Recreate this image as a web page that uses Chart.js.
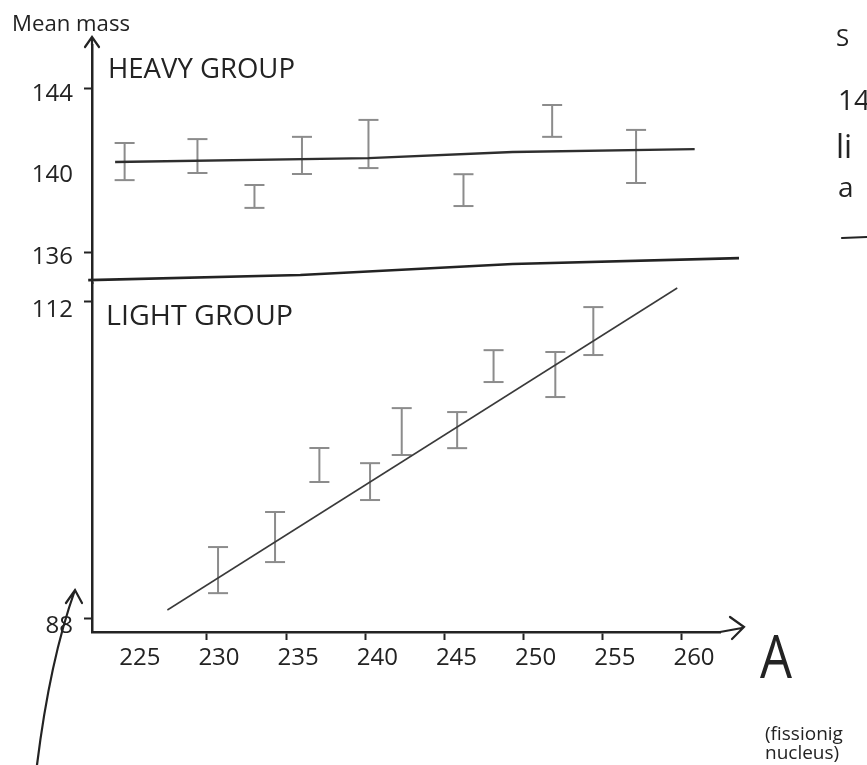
<!DOCTYPE html>
<html>
<head>
<meta charset="utf-8">
<script src="https://cdn.jsdelivr.net/npm/chart.js@4"></script>
<style>
  body { margin: 0; background: #fff; }
  #chart { display: block; }
</style>
</head>
<body>
<canvas id="chart" width="867" height="765"></canvas>
<script>
// mass number of the fissioning nucleus
const xTicks = [225, 230, 235, 240, 245, 250, 255, 260];
const heavyTicks = [136, 140, 144];
const lightTicks = [88, 112];

// heavy group: mean mass +- error
const heavyA = [224.8, 229.4, 233.0, 236.0, 240.2, 246.2, 251.8, 257.1];
const heavyMass = [140.44, 140.71, 138.73, 140.74, 141.30, 139.04, 142.43, 140.69];
const heavyErr = [0.91, 0.83, 0.56, 0.91, 1.18, 0.78, 0.78, 1.30];

// light group: mean mass +- error
const lightA = [230.7, 234.3, 237.1, 240.3, 242.3, 245.8, 248.1, 252.0, 254.4];
const lightMass = [91.64, 94.15, 99.62, 98.36, 102.16, 102.27, 107.13, 106.49, 109.79];
const lightErr = [1.75, 1.90, 1.29, 1.40, 1.78, 1.37, 1.21, 1.71, 1.82];

// hand drawn lines
const heavyFitA = [224.2, 240.2, 249.3, 260.8];
const heavyFitMass = [140.42, 140.61, 140.91, 141.05];
const lightFitA = [227.5, 259.7];
const lightFitMass = [88.61, 113.06];
const breakA = [222.5, 235.9, 249.3, 263.6];
const breakMass = [134.63, 134.88, 135.42, 135.71];

const INK = '#232323';
const BAR = '#8c8c8c';
const FONT = "'Open Sans', sans-serif";

const toPoints = (xs, ys) => xs.map((x, i) => ({ x, y: ys[i] }));

const caps = (xs, ys, errs) => xs.flatMap((x, i) => [
  { x, y: ys[i] - errs[i] },
  { x, y: ys[i] + errs[i] }
]);

const stems = (xs, ys, errs) => xs.flatMap((x, i) => [
  { x, y: ys[i] - errs[i] },
  { x, y: ys[i] + errs[i] },
  { x, y: null }
]);

const fitText = (ctx, text, left, base, width, size) => {
  ctx.save();
  ctx.font = `${size}px ${FONT}`;
  const w = ctx.measureText(text).width;
  ctx.translate(left, base);
  ctx.scale(width / w, 1);
  ctx.fillText(text, 0, 0);
  ctx.restore();
};

const drawText = (ctx, text, left, base, size) => {
  ctx.font = `${size}px ${FONT}`;
  ctx.fillText(text, left, base);
};

const decorations = {
  id: 'decorations',
  afterDraw(chart) {
    const { ctx, chartArea } = chart;
    ctx.save();
    ctx.strokeStyle = INK;
    ctx.fillStyle = INK;
    ctx.lineWidth = 2.2;
    ctx.lineCap = 'round';

    // arrow on top of the y axis
    const left = chartArea.left;
    ctx.beginPath();
    ctx.moveTo(left, chartArea.top);
    ctx.lineTo(left, chartArea.top - 8);
    ctx.moveTo(left - 7, chartArea.top + 2);
    ctx.lineTo(left, chartArea.top - 8);
    ctx.lineTo(left + 7, chartArea.top + 2);
    ctx.stroke();

    // arrow at the end of the x axis
    const bottom = chartArea.bottom;
    ctx.beginPath();
    ctx.moveTo(chartArea.right, bottom);
    ctx.lineTo(chartArea.right + 22, bottom - 4);
    ctx.moveTo(chartArea.right + 10, bottom - 15);
    ctx.lineTo(chartArea.right + 24, bottom - 5);
    ctx.lineTo(chartArea.right + 12, bottom + 7);
    ctx.stroke();

    // stray arrow bottom left
    ctx.beginPath();
    ctx.moveTo(37, 765);
    ctx.quadraticCurveTo(50, 660, 75, 590);
    ctx.moveTo(66, 603);
    ctx.lineTo(75, 590);
    ctx.lineTo(82, 603);
    ctx.stroke();

    fitText(ctx, 'Mean mass', 12, 31, 118, 22);
    fitText(ctx, 'HEAVY GROUP', 108, 78, 187, 27);
    fitText(ctx, 'LIGHT GROUP', 106, 325, 187, 27);
    fitText(ctx, 'A', 760, 678, 32, 60);
    drawText(ctx, '(fissionig', 765, 740, 19);
    drawText(ctx, 'nucleus)', 765, 759, 19);

    // text cut by the right edge of the page
    drawText(ctx, 'S', 836, 46, 24);
    drawText(ctx, '14', 838, 110, 28);
    drawText(ctx, 'li', 836, 158, 32);
    drawText(ctx, 'a', 838, 197, 28);
    ctx.beginPath();
    ctx.moveTo(842, 238);
    ctx.lineTo(867, 237);
    ctx.stroke();
    ctx.restore();
  }
};

const tickFont = { family: FONT, size: 24 };

new Chart(document.querySelector('#chart'), {
  type: 'scatter',
  data: {
    datasets: [
      {
        label: 'break',
        data: toPoints(breakA, breakMass),
        yAxisID: 'yH',
        showLine: true,
        borderColor: INK,
        borderWidth: 2.6,
        pointRadius: 0,
        clip: false
      },
      {
        label: 'heavy fit',
        data: toPoints(heavyFitA, heavyFitMass),
        yAxisID: 'yH',
        showLine: true,
        borderColor: '#2e2e2e',
        borderWidth: 2.4,
        pointRadius: 0
      },
      {
        label: 'light fit',
        data: toPoints(lightFitA, lightFitMass),
        yAxisID: 'yL',
        showLine: true,
        borderColor: '#3a3a3a',
        borderWidth: 1.5,
        pointRadius: 0
      },
      {
        label: 'heavy bars',
        data: stems(heavyA, heavyMass, heavyErr),
        yAxisID: 'yH',
        showLine: true,
        spanGaps: false,
        borderColor: BAR,
        borderWidth: 2,
        pointRadius: 0
      },
      {
        label: 'heavy caps',
        data: caps(heavyA, heavyMass, heavyErr),
        yAxisID: 'yH',
        pointStyle: 'line',
        pointRadius: 10,
        borderColor: BAR,
        borderWidth: 2
      },
      {
        label: 'light bars',
        data: stems(lightA, lightMass, lightErr),
        yAxisID: 'yL',
        showLine: true,
        spanGaps: false,
        borderColor: BAR,
        borderWidth: 2,
        pointRadius: 0
      },
      {
        label: 'light caps',
        data: caps(lightA, lightMass, lightErr),
        yAxisID: 'yL',
        pointStyle: 'line',
        pointRadius: 10,
        borderColor: BAR,
        borderWidth: 2
      }
    ]
  },
  options: {
    responsive: false,
    animation: false,
    layout: { padding: { top: 45, right: 147, bottom: 93, left: 0 } },
    plugins: { legend: { display: false }, tooltip: { enabled: false } },
    scales: {
      x: {
        type: 'linear',
        min: 222.74,
        max: 262.4,
        border: { color: INK, width: 2.5 },
        grid: {
          drawOnChartArea: false,
          tickLength: 8,
          tickWidth: 2,
          tickColor: ctx => ctx.tick && ctx.tick.value === 225 ? 'rgba(0,0,0,0)' : INK
        },
        ticks: { font: tickFont, color: INK, padding: 4, labelOffset: 12, maxRotation: 0, autoSkip: false },
        afterBuildTicks: scale => { scale.ticks = xTicks.map(value => ({ value })); },
        afterFit: scale => { scale.height = 40; }
      },
      yL: {
        type: 'linear',
        position: 'left',
        stack: 'mass',
        stackWeight: 349,
        min: 86.94,
        max: 113.44,
        border: { color: INK, width: 2.5 },
        grid: { drawOnChartArea: false, tickLength: 8, tickWidth: 2, tickColor: INK },
        ticks: { font: tickFont, color: INK, padding: 11, labelOffset: 8 },
        afterBuildTicks: scale => { scale.ticks = lightTicks.map(value => ({ value })); },
        afterFit: scale => { scale.width = 92; }
      },
      yH: {
        type: 'linear',
        position: 'left',
        stack: 'mass',
        stackWeight: 238,
        min: 134.49,
        max: 146.15,
        border: { color: INK, width: 2.5 },
        grid: {
          drawOnChartArea: false,
          tickLength: 8,
          tickWidth: 2,
          tickColor: ctx => ctx.tick && ctx.tick.value === 140 ? 'rgba(0,0,0,0)' : INK
        },
        ticks: { font: tickFont, color: INK, padding: 11, labelOffset: 5 },
        afterBuildTicks: scale => { scale.ticks = heavyTicks.map(value => ({ value })); },
        afterFit: scale => { scale.width = 92; }
      }
    }
  },
  plugins: [decorations]
});
</script>
</body>
</html>
